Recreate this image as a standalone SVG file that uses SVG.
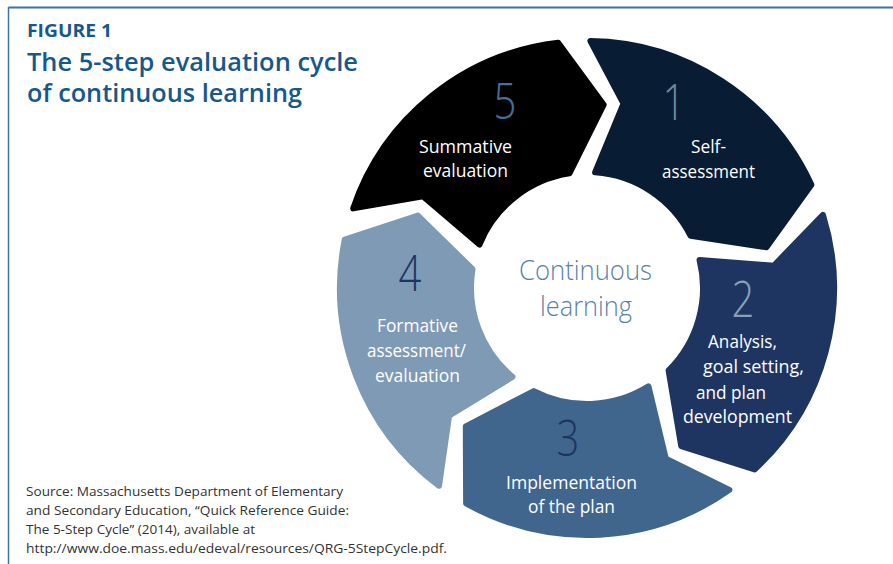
<svg xmlns="http://www.w3.org/2000/svg" width="893" height="564" viewBox="0 0 893 564">
  <style>
    .seg { stroke-width: 6; stroke-linejoin: round; }
    .head { font-family: "Open Sans", "Liberation Sans", sans-serif; fill: #17588c; }
    .num { font-family: "Open Sans", "Liberation Sans", sans-serif; font-weight: 300; font-size: 50px; text-anchor: middle; }
    .lbl { font-family: "Open Sans", "Liberation Sans", sans-serif; font-size: 17.5px; fill: #ffffff; }
    .core { font-family: "Open Sans", "Liberation Sans", sans-serif; font-weight: 300; font-size: 27.5px; fill: #5b7fa7; }
    .src { font-family: "Open Sans", "Liberation Sans", sans-serif; font-size: 13px; fill: #333333; }
  </style>

  <rect x="0" y="0" width="893" height="564" fill="#ffffff"/>

  <!-- frame -->
  <g id="frame" fill="none" stroke="#3b74a8">
    <line x1="8.5" y1="7.5" x2="893" y2="7.5" stroke-width="2"/>
    <line x1="8.5" y1="7" x2="8.5" y2="564" stroke-width="1.5"/>
  </g>

  <!-- heading -->
  <g id="heading" class="head">
    <text x="27" y="36.5" font-size="17" font-weight="700" textLength="85" lengthAdjust="spacingAndGlyphs">FIGURE 1</text>
    <text x="27" y="71" font-size="25" font-weight="600" textLength="331" lengthAdjust="spacingAndGlyphs">The 5-step evaluation cycle</text>
    <text x="27" y="102" font-size="25" font-weight="600" textLength="275" lengthAdjust="spacingAndGlyphs">of continuous learning</text>
  </g>

  <!-- step 1 -->
  <g id="step1">
    <path class="seg" fill="#081c33" stroke="#081c33" d="M590.45,41.02 A247,247 0 0 1 811.40,184.79 L766.43,247.23 L690.63,235.88 A116,116 0 0 0 595.09,172.28 L623.52,103.58 Z"/>
    <text class="num" fill="#6b87a5" transform="translate(674,120) scale(0.8,1)">1</text>
    <text class="lbl" x="691" y="153" textLength="35" lengthAdjust="spacingAndGlyphs">Self-</text>
    <text class="lbl" x="662" y="178" textLength="93" lengthAdjust="spacingAndGlyphs">assessment</text>
  </g>

  <!-- step 2 -->
  <g id="step2">
    <path class="seg" fill="#1e3562" stroke="#1e3562" d="M822.95,214.96 A247,247 0 0 1 754.54,469.50 L681.22,446.05 L668.60,370.45 A116,116 0 0 0 699.55,259.94 L773.68,265.74 Z"/>
    <text class="num" fill="#8aa0ba" transform="translate(743,317) scale(0.8,1)">2</text>
    <text class="lbl" x="708" y="348" textLength="69" lengthAdjust="spacingAndGlyphs">Analysis,</text>
    <text class="lbl" x="703" y="373" textLength="101" lengthAdjust="spacingAndGlyphs">goal setting,</text>
    <text class="lbl" x="696" y="399" textLength="70" lengthAdjust="spacingAndGlyphs">and plan</text>
    <text class="lbl" x="683" y="423" textLength="109" lengthAdjust="spacingAndGlyphs">development</text>
  </g>

  <!-- step 3 -->
  <g id="step3">
    <path class="seg" fill="#41668e" stroke="#41668e" d="M729.38,489.83 A247,247 0 0 1 466.12,503.40 L465.80,426.44 L533.80,391.08 A116,116 0 0 0 648.47,386.37 L665.86,458.66 Z"/>
    <text class="num" fill="#1e3562" transform="translate(568,456) scale(0.8,1)">3</text>
    <text class="lbl" x="506" y="489" textLength="131" lengthAdjust="spacingAndGlyphs">Implementation</text>
    <text class="lbl" x="528" y="513" textLength="87" lengthAdjust="spacingAndGlyphs">of the plan</text>
  </g>

  <!-- step 4 -->
  <g id="step4">
    <path class="seg" fill="#7f9ab5" stroke="#7f9ab5" d="M439.04,485.78 A247,247 0 0 1 344.79,239.60 L417.88,215.52 L472.52,269.25 A116,116 0 0 0 512.44,376.86 L449.06,415.73 Z"/>
    <text class="num" fill="#1e3562" transform="translate(410,291) scale(0.8,1)">4</text>
    <text class="lbl" x="377" y="332" textLength="81" lengthAdjust="spacingAndGlyphs">Formative</text>
    <text class="lbl" x="367" y="357" textLength="99" lengthAdjust="spacingAndGlyphs">assessment/</text>
    <text class="lbl" x="375" y="382" textLength="85" lengthAdjust="spacingAndGlyphs">evaluation</text>
  </g>

  <!-- step 5 -->
  <g id="step5">
    <path class="seg" fill="#000000" stroke="#000000" d="M353.18,208.40 A247,247 0 0 1 558.18,42.69 L603.68,104.76 L569.45,173.34 A116,116 0 0 0 479.45,244.55 L422.90,196.28 Z"/>
    <text class="num" fill="#46709c" transform="translate(505,119) scale(0.8,1)">5</text>
    <text class="lbl" x="419" y="153" textLength="93" lengthAdjust="spacingAndGlyphs">Summative</text>
    <text class="lbl" x="423" y="177" textLength="85" lengthAdjust="spacingAndGlyphs">evaluation</text>
  </g>

  <!-- hub -->
  <g id="hub" class="core">
    <text x="519" y="280" textLength="133" lengthAdjust="spacingAndGlyphs">Continuous</text>
    <text x="540" y="316" textLength="92" lengthAdjust="spacingAndGlyphs">learning</text>
  </g>

  <g id="connectors"/>

  <!-- source note -->
  <g id="source" class="src">
    <text x="26" y="496" textLength="317" lengthAdjust="spacingAndGlyphs">Source: Massachusetts Department of Elementary</text>
    <text x="26" y="515" textLength="323" lengthAdjust="spacingAndGlyphs">and Secondary Education, “Quick Reference Guide:</text>
    <text x="26" y="534" textLength="229" lengthAdjust="spacingAndGlyphs">The 5-Step Cycle” (2014), available at</text>
    <text x="26" y="553" textLength="421" lengthAdjust="spacingAndGlyphs">http://www.doe.mass.edu/edeval/resources/QRG-5StepCycle.pdf.</text>
  </g>
</svg>
